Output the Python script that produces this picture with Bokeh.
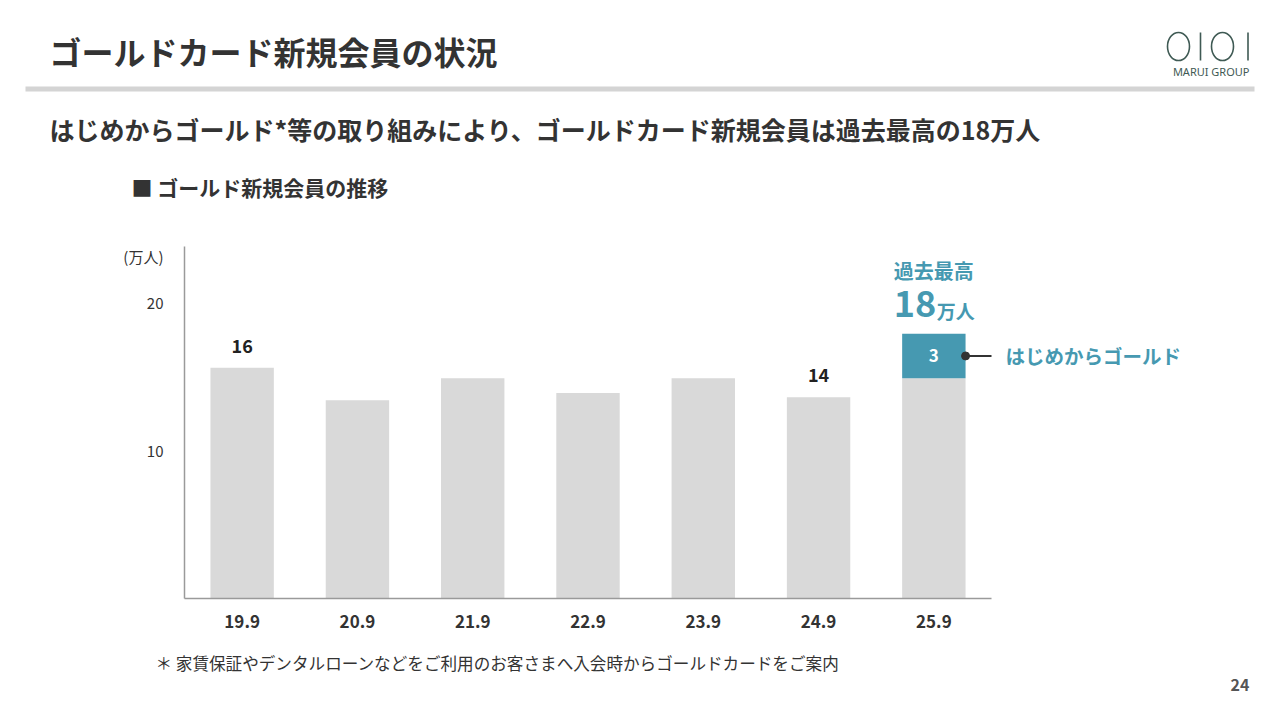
from bokeh.plotting import figure
from bokeh.layouts import column
from bokeh.models import (FactorRange, Range1d, LinearAxis, ColumnDataSource, FixedTicker)
from bokeh.transform import dodge
from bokeh.core.properties import value
from bokeh.embed import file_html
from bokeh.resources import INLINE

# ---- data ----
categories = ["19.9", "20.9", "21.9", "22.9", "23.9", "24.9", "25.9"]
gold_regular = [15.6, 13.4, 14.9, 13.9, 14.9, 13.6, 14.9]     # 万人
gold_from_start = [0, 0, 0, 0, 0, 0, 3.0]                     # はじめからゴールド
value_labels = ["16", "", "", "", "", "14", ""]
y_ticks = [10, 20]
unit_label = "(万人)"
series_note = "はじめからゴールド"

FONT = "Noto Sans CJK JP"
GRAY = "#d9d9d9"
TEAL = "#4699b1"
DARK = "#333333"
LOGO = "#3f5a54"

W = 1264
HEAD_H, CHART_H, FOOT_H = 230, 415, 59
FL, FR, FT, FB = 184, 991, 246, 598      # frame edges in page pixels
UNIT_POS = 23.1                          # where the unit caption sits on the y scale


def deco(height):
    f = figure(width=W, height=height, x_range=Range1d(0, W), y_range=Range1d(height, 0),
               x_axis_location=None, y_axis_location=None, title=None, frame_align=False,
               output_backend="svg", toolbar_location=None, min_border=0)
    f.outline_line_color = None
    f.grid.visible = False
    f.background_fill_color = "white"
    f.border_fill_color = "white"
    return f


def txt(f, x, y, s, size, color=DARK, bold=False, align="left", font=FONT):
    f.text(x=[x], y=[y], text=[s], text_font=value(font), text_font_size=f"{size}px",
           text_font_style="bold" if bold else "normal", text_color=color,
           text_align=align, text_baseline="middle")


# ---------------- header ----------------
head = deco(HEAD_H)
txt(head, 49, 50, "ゴールドカード新規会員の状況", 32, bold=True)
head.quad(left=[25], right=[1254], top=[86], bottom=[91], fill_color="#d4d4d4", line_color=None)
txt(head, 49, 128, "はじめからゴールド*等の取り組みにより、ゴールドカード新規会員は過去最高の18万人", 25, bold=True)
txt(head, 131, 186, "■ ゴールド新規会員の推移", 21, bold=True)
head.ellipse(x=[1178, 1222], y=[46, 46], width=22, height=28,
             fill_color=None, line_color=LOGO, line_width=1.6)
head.segment(x0=[1200, 1247.5], y0=[32, 32], x1=[1200, 1247.5], y1=[60, 60],
             line_color=LOGO, line_width=1.6)
txt(head, 1249, 71, "MARUI GROUP", 11, color=LOGO, align="right", font="Noto Sans")

# ---------------- chart ----------------
p = figure(width=W, height=CHART_H, title=None, frame_align=False,
           x_range=FactorRange(*categories), y_range=Range1d(0, 23.8),
           output_backend="svg", toolbar_location=None,
           min_border_left=FL, min_border_right=W - FR,
           min_border_top=FT - HEAD_H, min_border_bottom=HEAD_H + CHART_H - FB)
p.outline_line_color = None
p.xgrid.visible = False
p.ygrid.visible = False
p.background_fill_color = "white"
p.border_fill_color = "white"

for ax in (p.xaxis[0], p.yaxis[0]):
    ax.axis_line_color = "#9a9a9a"
    ax.axis_line_width = 1.5
    ax.major_tick_line_color = None
    ax.minor_tick_line_color = None
    ax.major_label_text_font = FONT
    ax.major_label_text_color = DARK

p.xaxis.major_label_text_font_size = "17px"
p.xaxis.major_label_text_font_style = "bold"
p.xaxis.major_label_standoff = 10
p.yaxis.ticker = FixedTicker(ticks=y_ticks + [UNIT_POS])
p.yaxis.major_label_overrides = {UNIT_POS: unit_label}
p.yaxis.major_label_text_font_size = "15px"
p.yaxis.major_label_standoff = 15

totals = [a + b for a, b in zip(gold_regular, gold_from_start)]
src = ColumnDataSource(dict(cat=categories, regular=gold_regular, start=gold_from_start,
                            total=totals, label=value_labels))

p.vbar_stack(["regular", "start"], x="cat", width=0.55, source=src,
             fill_color=[GRAY, TEAL], line_color=None)

p.text(x="cat", y="regular", text="label", source=src, y_offset=-22,
       text_align="center", text_baseline="middle", text_font=value(FONT),
       text_font_style="bold", text_font_size="18px", text_color="#222222")

hl = [i for i, v in enumerate(gold_from_start) if v > 0]
mids = [gold_regular[i] + gold_from_start[i] / 2 for i in hl]
src_hl = ColumnDataSource(dict(
    cat=[categories[i] for i in hl],
    mid=mids,
    total=[totals[i] for i in hl],
    lab=[f"{gold_from_start[i]:.0f}" for i in hl],
    totlab=[f"{round(totals[i])}" for i in hl],
    unit=["万人" for i in hl],
    head=["過去最高" for i in hl],
))

p.text(x="cat", y="mid", text="lab", source=src_hl, text_align="center",
       text_baseline="middle", text_font=value(FONT), text_font_style="bold",
       text_font_size="17px", text_color="white")
p.segment(x0=dodge("cat", 0.275, range=p.x_range), y0="mid",
          x1=dodge("cat", 0.53, range=p.x_range), y1="mid", source=src_hl,
          line_color=DARK, line_width=2)
p.scatter(x=dodge("cat", 0.275, range=p.x_range), y="mid", source=src_hl,
          size=8, fill_color=DARK, line_color=DARK)

p.text(x="cat", y="total", text="head", source=src_hl, y_offset=-63,
       text_align="center", text_baseline="middle", text_font=value(FONT),
       text_font_style="bold", text_font_size="20px", text_color=TEAL)
p.text(x="cat", y="total", text="totlab", source=src_hl, x_offset=-40, y_offset=-30,
       text_align="left", text_baseline="middle", text_font=value(FONT),
       text_font_style="bold", text_font_size="36px", text_color=TEAL)
p.text(x="cat", y="total", text="unit", source=src_hl, x_offset=3, y_offset=-23,
       text_align="left", text_baseline="middle", text_font=value(FONT),
       text_font_style="bold", text_font_size="19px", text_color=TEAL)

# series caption on a right-hand axis, at the middle of the highlighted segment
rax = LinearAxis(ticker=FixedTicker(ticks=mids), major_label_overrides={mids[0]: series_note})
rax.axis_line_color = None
rax.major_tick_line_color = None
rax.minor_tick_line_color = None
rax.major_label_standoff = 8
rax.major_label_text_font = FONT
rax.major_label_text_font_size = "19.5px"
rax.major_label_text_font_style = "bold"
rax.major_label_text_color = TEAL
p.add_layout(rax, "right")

# ---------------- footer ----------------
foot = deco(FOOT_H)
top_f = HEAD_H + CHART_H
txt(foot, 155, 662 - top_f, "＊ 家賃保証やデンタルローンなどをご利用のお客さまへ入会時からゴールドカードをご案内", 16.6)
txt(foot, 1249, 684 - top_f, "24", 16, color="#555555", bold=True, align="right")

layout = column(head, p, foot, spacing=0)
open("out.html", "w").write(file_html(layout, INLINE))
